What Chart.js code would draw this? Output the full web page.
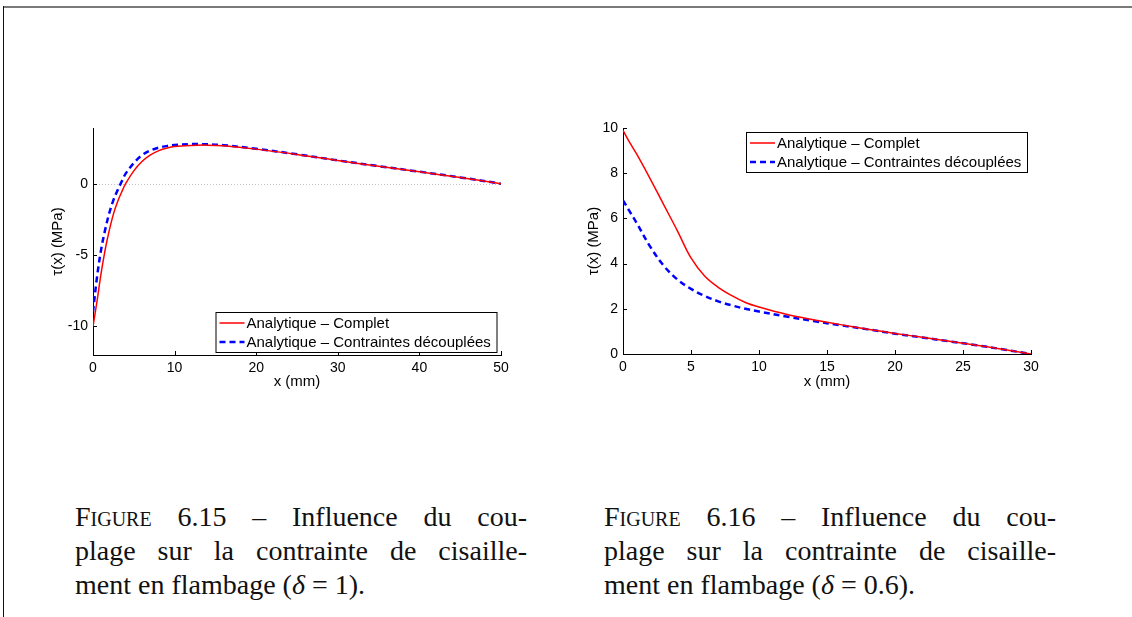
<!DOCTYPE html>
<html>
<head>
<meta charset="utf-8">
<script src="https://cdn.jsdelivr.net/npm/chart.js@4.4.0/dist/chart.umd.min.js"></script>
<style>
  body { margin: 0; width: 1132px; height: 617px; background: #fff; position: relative; overflow: hidden; }
  .frame-top { position: absolute; left: 3px; top: 6px; right: 0; height: 2px; background: #7a7a7a; }
  .frame-left { position: absolute; left: 3px; top: 6px; width: 1px; bottom: 0; background: #111; }
  canvas { position: absolute; top: 110px; }
  .caption { position: absolute; top: 500px; width: 452px; font-family: "Liberation Serif", "DejaVu Serif", serif; font-size: 28px; line-height: 34px; color: #111; }
  .caption div { text-align: justify; text-align-last: justify; }
  .caption div.last { text-align-last: left; }
  .sc { font-variant: small-caps; }
</style>
</head>
<body>
<div class="frame-top"></div>
<div class="frame-left"></div>

<canvas id="chart1" width="490" height="290" style="left:30px"></canvas>
<canvas id="chart2" width="490" height="290" style="left:560px"></canvas>

<div class="caption" style="left:75px">
  <div><span class="sc">Figure</span> 6.15 – Influence du cou-</div>
  <div>plage sur la contrainte de cisaille-</div>
  <div class="last">ment en flambage (<i>δ</i> = 1).</div>
</div>
<div class="caption" style="left:604px">
  <div><span class="sc">Figure</span> 6.16 – Influence du cou-</div>
  <div>plage sur la contrainte de cisaille-</div>
  <div class="last">ment en flambage (<i>δ</i> = 0.6).</div>
</div>

<script>
// figure 6.15 (delta = 1)
const x1 = [0, 0.5, 1, 1.5, 2, 2.5, 3, 3.5, 4, 5, 6, 7, 8, 9, 10, 12, 14, 16, 20, 25, 30, 35, 40, 45, 50];
const complet1 = [-10, -8.2, -6.25, -4.6, -3.25, -2.13, -1.28, -0.6, 0.0, 0.9, 1.55, 2.0, 2.3, 2.48, 2.6, 2.68, 2.7, 2.65, 2.42, 2.05, 1.62, 1.22, 0.83, 0.43, 0];
const decouple1 = [-9, -6.5, -4.6, -3.2, -2.05, -1.15, -0.47, 0.13, 0.7, 1.45, 2.0, 2.32, 2.52, 2.63, 2.71, 2.77, 2.76, 2.7, 2.44, 2.06, 1.63, 1.23, 0.84, 0.44, 0];
const xTicks1 = [0, 10, 20, 30, 40, 50];
const yTicks1 = [-10, -5, 0];

// figure 6.16 (delta = 0.6)
const x2 = [0, 0.5, 1, 2, 3, 4, 5, 6, 7, 8, 9, 10, 12, 14, 16, 18, 20, 22, 24, 26, 28, 30];
const complet2 = [9.9, 9.35, 8.85, 7.75, 6.6, 5.45, 4.25, 3.45, 2.95, 2.58, 2.28, 2.08, 1.76, 1.52, 1.3, 1.1, 0.91, 0.74, 0.56, 0.39, 0.2, 0];
const decouple2 = [6.8, 6.3, 5.8, 4.75, 3.9, 3.3, 2.88, 2.57, 2.33, 2.15, 2.0, 1.88, 1.66, 1.46, 1.27, 1.09, 0.9, 0.73, 0.56, 0.39, 0.2, 0];
const xTicks2 = [0, 5, 10, 15, 20, 25, 30];
const yTicks2 = [0, 2, 4, 6, 8, 10];

const seriesLabels = ['Analytique – Complet', 'Analytique – Contraintes découplées'];

Chart.defaults.font.family = '"Liberation Sans", Arial, sans-serif';
Chart.defaults.color = '#000';

// matlab look: inward ticks, dotted zero line, boxed legend
const matlabAxes = {
  id: 'matlabAxes',
  beforeDatasetsDraw(chart, args, opts) {
    if (!opts.zeroLine) return;
    const { ctx, chartArea: a, scales: { y } } = chart;
    const py = Math.round(y.getPixelForValue(0)) + 0.5;
    ctx.save();
    ctx.strokeStyle = '#c4c4c4';
    ctx.lineWidth = 1;
    ctx.setLineDash([1, 2]);
    ctx.beginPath();
    ctx.moveTo(a.left, py);
    ctx.lineTo(a.right, py);
    ctx.stroke();
    ctx.restore();
  },
  afterDraw(chart, args, opts) {
    const { ctx, chartArea: a, scales: { x, y } } = chart;
    ctx.save();
    ctx.strokeStyle = '#000';
    ctx.lineWidth = 1;
    ctx.beginPath();
    x.ticks.forEach((t) => {
      const px = Math.round(x.getPixelForValue(t.value)) + 0.5;
      ctx.moveTo(px, a.bottom);
      ctx.lineTo(px, a.bottom - 4);
    });
    y.ticks.forEach((t) => {
      const py = Math.round(y.getPixelForValue(t.value)) + 0.5;
      ctx.moveTo(a.left, py);
      ctx.lineTo(a.left + 4, py);
    });
    ctx.stroke();

    const lg = opts.legend;
    ctx.fillStyle = '#fff';
    ctx.fillRect(lg.left, lg.top, lg.width, lg.height);
    ctx.strokeStyle = '#000';
    ctx.strokeRect(lg.left + 0.5, lg.top + 0.5, lg.width, lg.height);
    ctx.font = '15px "Liberation Sans", Arial, sans-serif';
    ctx.textBaseline = 'middle';
    ctx.fillStyle = '#000';
    chart.data.datasets.forEach((ds, i) => {
      const cy = lg.top + lg.rows[i];
      ctx.save();
      ctx.strokeStyle = ds.borderColor;
      ctx.lineWidth = ds.borderWidth;
      ctx.setLineDash(ds.borderDash || []);
      ctx.beginPath();
      ctx.moveTo(lg.left + 4, cy);
      ctx.lineTo(lg.left + 29, cy);
      ctx.stroke();
      ctx.restore();
      ctx.fillText(ds.label, lg.left + 31, cy + 1);
    });
    ctx.restore();
  }
};

const buildChart = (id, xs, complet, decouple, cfg) => {
  const toPoints = (ys) => xs.map((x, i) => ({ x, y: ys[i] }));

  return new Chart(document.getElementById(id), {
    type: 'line',
    data: {
      datasets: [
        {
          label: seriesLabels[0],
          data: toPoints(complet),
          borderColor: '#ff0000',
          borderWidth: 1.5,
          pointRadius: 0,
          tension: 0.35
        },
        {
          label: seriesLabels[1],
          data: toPoints(decouple),
          borderColor: '#0000ff',
          borderWidth: 2.5,
          borderDash: [6, 4],
          pointRadius: 0,
          tension: 0.35
        }
      ]
    },
    options: {
      responsive: false,
      animation: false,
      layout: { padding: { top: 18, right: 19, left: 0, bottom: 0 } },
      plugins: {
        legend: { display: false },
        tooltip: { enabled: false },
        matlabAxes: { zeroLine: cfg.zeroLine, legend: cfg.legend }
      },
      scales: {
        x: {
          type: 'linear',
          min: cfg.xTicks[0],
          max: cfg.xTicks[cfg.xTicks.length - 1],
          afterBuildTicks: (s) => { s.ticks = cfg.xTicks.map((v) => ({ value: v })); },
          afterFit: (s) => { s.height = cfg.xHeight; },
          grid: { drawOnChartArea: false, drawTicks: false },
          border: { color: '#000', width: 1 },
          ticks: { padding: 5, maxRotation: 0, font: { size: 14 } },
          title: { display: true, text: 'x (mm)', font: { size: 15 }, padding: { top: 0, bottom: 9 } }
        },
        y: {
          min: cfg.yMin,
          max: cfg.yMax,
          afterBuildTicks: (s) => { s.ticks = cfg.yTicks.map((v) => ({ value: v })); },
          afterFit: (s) => { s.width = 63; },
          grid: { drawOnChartArea: false, drawTicks: false },
          border: { color: '#000', width: 1 },
          ticks: { padding: 5, font: { size: 14 }, callback: (v) => String(v) },
          title: { display: true, text: 'τ(x) (MPa)', font: { size: 15 }, padding: { top: cfg.titlePad, bottom: 0 } }
        }
      }
    },
    plugins: [matlabAxes]
  });
};

buildChart('chart1', x1, complet1, decouple1, {
  xTicks: xTicks1, yTicks: yTicks1, yMin: -12, yMax: 3.9,
  xHeight: 45, titlePad: 19, zeroLine: true,
  legend: { left: 185.5, top: 202, width: 281, height: 40, rows: [11, 30] }
});

buildChart('chart2', x2, complet2, decouple2, {
  xTicks: xTicks2, yTicks: yTicks2, yMin: 0, yMax: 10,
  xHeight: 46, titlePad: 25, zeroLine: false,
  legend: { left: 186, top: 22, width: 281, height: 40, rows: [11, 30] }
});
</script>
</body>
</html>
